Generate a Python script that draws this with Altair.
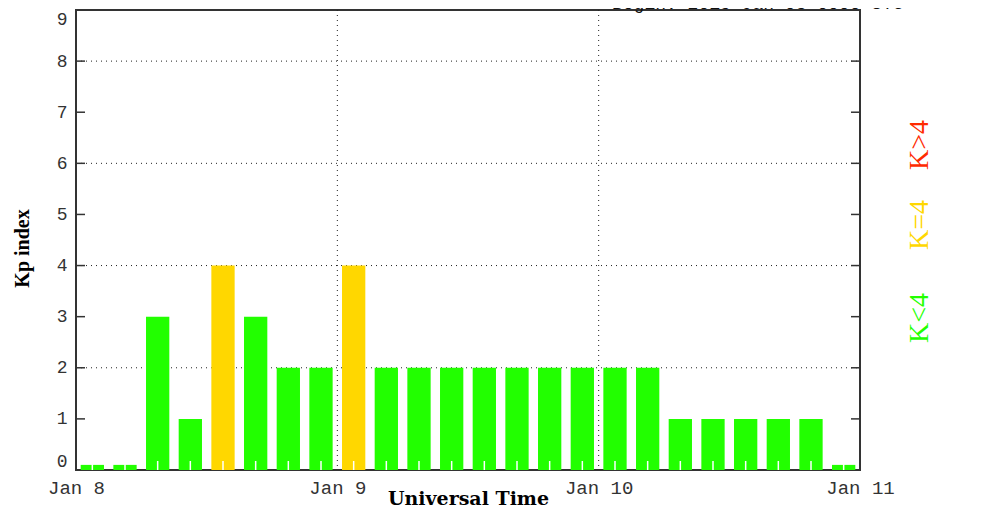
import altair as alt
import pandas as pd

# ---- data ----
kp_values = [0.1, 0.1, 3, 1, 4, 3, 2, 2,
             4, 2, 2, 2, 2, 2, 2, 2,
             2, 2, 1, 1, 1, 1, 1, 0.1]
start_hours = list(range(0, 72, 3))          # 3-hour intervals from Jan 8 00 UT
day_hours = [0, 24, 48, 72]
day_labels = ["Jan 8", "Jan 9", "Jan 10", "Jan 11"]
y_ticks = list(range(0, 10))
grid_y = [2, 4, 6, 8]
grid_x = [24, 48]
inner_ticks = [1, 2, 3, 4, 5, 6, 7, 8]
legend_labels = ["K<4", "K=4", "K>4"]
legend_colors = ["#22ff00", "#ffd700", "#ff2a00"]
begin_text = "Begin: 2015 Jan 08 0000 UTC"

def cat(v):
    if v < 4:
        return "K<4"
    if v == 4:
        return "K=4"
    return "K>4"

bars_df = pd.DataFrame({"start": start_hours, "kp": kp_values})
bars_df["cat"] = [cat(v) for v in kp_values]

W, H = 784, 460
xscale = alt.Scale(domain=[0, 72], nice=False, zero=False)
yscale = alt.Scale(domain=[0, 9], nice=False)

label_expr = "[" + ",".join("'%s'" % s for s in day_labels) + "][round(datum.value/24)]"

bars = alt.Chart(bars_df).transform_calculate(
    x0="datum.start + 0.43", x1="datum.start + 2.57"
).mark_bar().encode(
    x=alt.X("x0:Q", scale=xscale,
            axis=alt.Axis(values=day_hours, labelExpr=label_expr, title="Universal Time",
                          labelFont="Liberation Mono", labelFontSize=19, labelColor="#333",
                          labelPadding=8, labelFlush=False, labelOverlap=False,
                          ticks=False, domain=False, grid=False,
                          titleFont="DejaVu Serif", titleFontSize=19, titleFontWeight="bold",
                          titleColor="black", titleY=34, titleBaseline="alphabetic")),
    x2="x1:Q",
    y=alt.Y("kp:Q", scale=yscale,
            axis=alt.Axis(values=y_ticks, title="Kp index",
                          labelFont="Liberation Mono", labelFontSize=18, labelColor="#333",
                          labelPadding=9, labelFlush=True, ticks=False, domain=False, grid=False,
                          titleFont="Liberation Serif", titleFontSize=20, titleFontWeight="bold",
                          titleColor="black", titlePadding=24, titleY=238)),
    y2=alt.datum(0),
    color=alt.Color("cat:N", scale=alt.Scale(domain=legend_labels, range=legend_colors),
                    legend=None),
)

white_ticks = alt.Chart(bars_df).transform_calculate(
    mid="datum.start + 1.5"
).mark_rule(color="white", strokeWidth=1.5).encode(
    x=alt.X("mid:Q", scale=xscale, axis=None),
    y=alt.value(H),
    y2=alt.value(H - 9),
)

gy = alt.Chart(pd.DataFrame({"v": grid_y})).mark_rule(
    color="#222", strokeWidth=1, strokeDash=[1, 4]
).encode(y=alt.Y("v:Q", scale=yscale, axis=None), x=alt.value(0), x2=alt.value(W))

gx = alt.Chart(pd.DataFrame({"h": grid_x})).mark_rule(
    color="#222", strokeWidth=1, strokeDash=[1, 4]
).encode(x=alt.X("h:Q", scale=xscale, axis=None), y=alt.value(0), y2=alt.value(H))

tick_df = pd.DataFrame({"v": inner_ticks})
lt = alt.Chart(tick_df).mark_rule(color="#333", strokeWidth=1.5).encode(
    y=alt.Y("v:Q", scale=yscale, axis=None), x=alt.value(0), x2=alt.value(9))
rt = alt.Chart(tick_df).mark_rule(color="#333", strokeWidth=1.5).encode(
    y=alt.Y("v:Q", scale=yscale, axis=None), x=alt.value(W - 9), x2=alt.value(W))

dummy = pd.DataFrame({"d": [0]})
legend_y = [308, 215, 135]
legend_layers = [
    alt.Chart(dummy).mark_text(angle=270, align="center", baseline="middle",
                               font="Liberation Serif", fontSize=28,
                               color=c, text=t).encode(x=alt.value(844), y=alt.value(yy))
    for t, c, yy in zip(legend_labels, legend_colors, legend_y)
]

top_text = alt.Chart(dummy).mark_text(
    align="left", baseline="alphabetic", font="Liberation Mono", fontSize=18,
    color="#111", text=begin_text
).encode(x=alt.value(536), y=alt.value(-1))

chart = alt.layer(gy, gx, bars, white_ticks, lt, rt, *legend_layers, top_text).resolve_axis(
    x="independent", y="independent"
).properties(
    width=W, height=H,
    padding={"left": 68, "top": 2, "right": 100, "bottom": 38},
    autosize=alt.AutoSizeParams(type="none"),
    background="white",
).configure_view(stroke="#333", strokeWidth=2)

chart.save("out.html", embed_options={"renderer": "svg", "actions": False})
